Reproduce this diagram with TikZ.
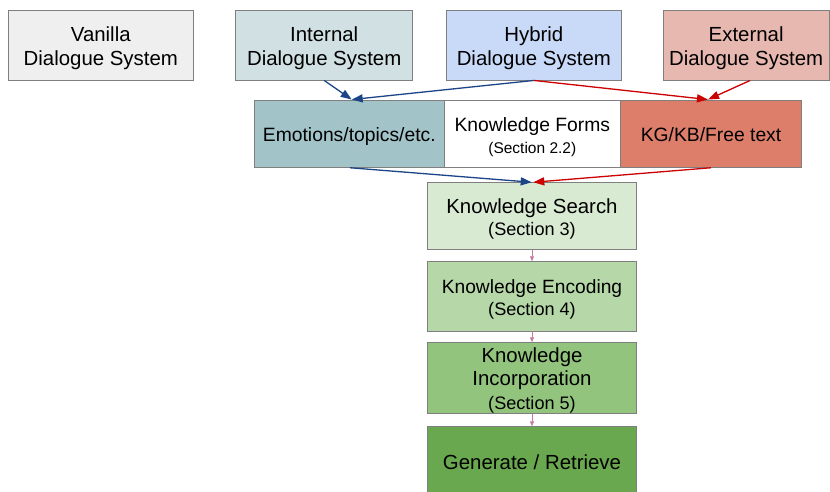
\documentclass[tikz,border=0pt]{standalone}
\usepackage{fontspec}
\setmainfont{Liberation Sans}
\usetikzlibrary{arrows.meta}
\definecolor{cBorder}{HTML}{7F7F7F}
\definecolor{cVanilla}{HTML}{EFEFEF}
\definecolor{cInternal}{HTML}{D0E0E3}
\definecolor{cHybrid}{HTML}{C9DAF8}
\definecolor{cExternal}{HTML}{E6B8AF}
\definecolor{cEmo}{HTML}{A2C4C9}
\definecolor{cKG}{HTML}{DD7E6B}
\definecolor{cSearch}{HTML}{D9EAD3}
\definecolor{cEncoding}{HTML}{B6D7A8}
\definecolor{cIncorp}{HTML}{93C47D}
\definecolor{cGenerate}{HTML}{6AA84F}
\definecolor{cBlue}{HTML}{1C4587}
\definecolor{cRed}{HTML}{CC0000}
\definecolor{cPink}{HTML}{C27BA0}
\begin{document}
\begin{tikzpicture}[x=1pt,y=-1pt,
  box/.style={draw=cBorder, line width=0.9pt, inner sep=0pt, align=center, text=black, text depth=0pt},
  topbox/.style={box, minimum height=70pt, text height=41pt, font=\fontsize{20.4}{24}\selectfont},
  formbox/.style={box, minimum height=67.3pt},
  stagebox/.style={box, minimum width=209.4pt},
  bluearrow/.style={draw=cBlue, line width=1.3pt, -{Triangle[length=11pt,width=8pt]}},
  redarrow/.style={draw=cRed, line width=1.3pt, -{Triangle[length=11pt,width=8pt]}},
  pinkarrow/.style={draw=cPink, line width=0.8pt, -{Triangle[length=5pt,width=4pt]}}
]
\useasboundingbox (0,0) rectangle (830,492);
\fill[white] (0,0) rectangle (830,492);

% top row
\node[topbox, fill=cVanilla, minimum width=185pt] (vanilla) at (100.8,45) {Vanilla\\Dialogue System};
\node[topbox, fill=cInternal, minimum width=177pt] (internal) at (324.2,45) {Internal\\Dialogue System};
\node[topbox, fill=cHybrid, minimum width=174.3pt] (hybrid) at (533.85,45) {Hybrid\\Dialogue System};
\node[topbox, fill=cExternal, minimum width=166.3pt] (external) at (746.15,45) {External\\Dialogue System};

% knowledge forms row
\node[formbox, fill=cEmo, minimum width=190pt, text height=15pt, font=\fontsize{19.3}{22}\selectfont] (emo) at (349.3,133.65) {Emotions/topics/etc.};
\node[formbox, fill=white, minimum width=176pt, text height=39pt, font=\fontsize{19.3}{21.7}\selectfont] (forms) at (532.3,133.65) {Knowledge Forms\\{\fontsize{15.5}{21.7}\selectfont (Section 2.2)}};
\node[formbox, fill=cKG, minimum width=181.4pt, text height=15pt, font=\fontsize{19.3}{22}\selectfont] (kg) at (711,133.65) {KG/KB/Free text};

% stages
\node[stagebox, fill=cSearch, minimum height=66.6pt, text height=38pt, font=\fontsize{20.4}{21.7}\selectfont] (search) at (532,216) {Knowledge Search\\{\fontsize{18.1}{21.7}\selectfont (Section 3)}};
\node[stagebox, fill=cEncoding, minimum height=69.3pt, text height=37.3pt, font=\fontsize{19.2}{22}\selectfont] (encoding) at (532,296.35) {Knowledge Encoding\\{\fontsize{18.1}{22}\selectfont (Section 4)}};
\node[stagebox, fill=cIncorp, minimum height=70.6pt, text height=62pt, font=\fontsize{20.4}{23.2}\selectfont] (incorp) at (532,378) {Knowledge\\Incorporation\\{\fontsize{18.1}{23.2}\selectfont (Section 5)}};
\node[stagebox, fill=cGenerate, minimum height=66.3pt, text height=19.5pt, font=\fontsize{20.4}{24}\selectfont] (generate) at (532,459.85) {Generate / Retrieve};

% connectors
\draw[bluearrow] (internal.south) -- ([xshift=2.4pt]emo.north);
\draw[bluearrow] (hybrid.south) -- ([xshift=2.4pt]emo.north);
\draw[redarrow] (hybrid.south) -- ([xshift=-3pt]kg.north);
\draw[redarrow] ([xshift=4pt]external.south) -- ([xshift=-3pt]kg.north);
\draw[bluearrow] ([xshift=0.7pt]emo.south) -- ([xshift=-0.3pt]search.north);
\draw[redarrow] (kg.south) -- ([xshift=1.3pt]search.north);
\draw[pinkarrow] (search.south) -- (encoding.north);
\draw[pinkarrow] (encoding.south) -- (incorp.north);
\draw[pinkarrow] (incorp.south) -- (generate.north);
\end{tikzpicture}
\end{document}
